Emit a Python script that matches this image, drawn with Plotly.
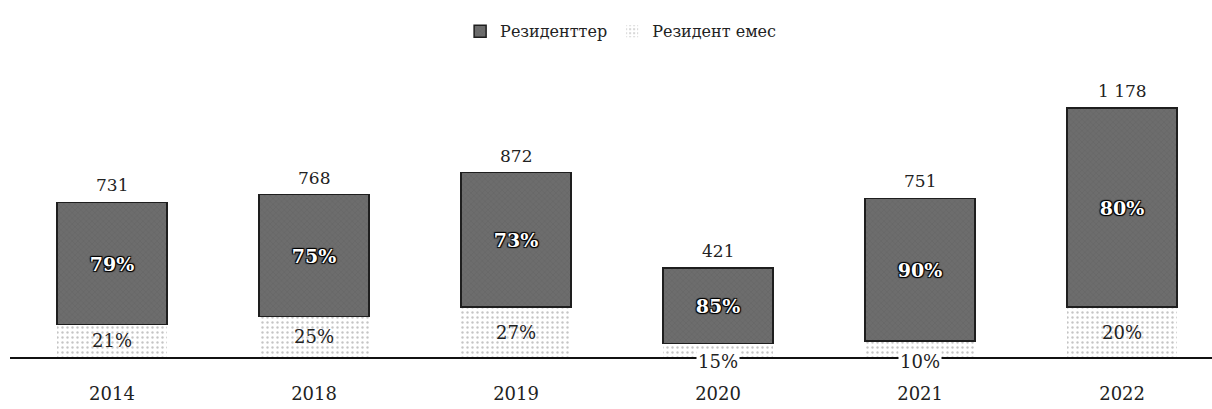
import plotly.graph_objects as go

# Data: totals and shares of residents / non-residents by year
years = ["2014", "2018", "2019", "2020", "2021", "2022"]
totals = [731, 768, 872, 421, 751, 1178]
resident_pct = [79, 75, 73, 85, 90, 80]
nonresident_pct = [21, 25, 27, 15, 10, 20]
total_labels = ["731", "768", "872", "421", "751", "1 178"]

resident_vals = [t * p / 100 for t, p in zip(totals, resident_pct)]
nonresident_vals = [t * p / 100 for t, p in zip(totals, nonresident_pct)]

SERIF = "DejaVu Serif"
DARK = "#6d6d6d"

fig = go.Figure()

# Bottom segment: non-residents (light dotted fill)
fig.add_trace(go.Bar(
    x=years, y=nonresident_vals, name="Резидент емес",
    marker=dict(color="white",
                line=dict(width=0),
                pattern=dict(shape=".", fgcolor="#8c8c8c", bgcolor="white",
                             size=5, solidity=0.18)),
    width=0.545, hoverinfo="skip",
))

# Top segment: residents (dark fill with percentage inside)
fig.add_trace(go.Bar(
    x=years, y=resident_vals, name="Резиденттер",
    marker=dict(color=DARK, line=dict(color="#1e1e1e", width=1.5),
                pattern=dict(shape="x", fgcolor="#5a5a5a", bgcolor=DARK,
                             size=4, solidity=0.25)),
    width=0.545,
    text=[f"{p}%" for p in resident_pct],
    textposition="inside", insidetextanchor="middle",
    textfont=dict(family=SERIF, size=19, color="white", weight="bold",
                  shadow="1px 1px 1px #000, -1px -1px 1px #000, 1px -1px 1px #000, -1px 1px 1px #000"),
    textangle=0, hoverinfo="skip",
))

annotations = []
# Totals above each bar
for i, (t, lbl) in enumerate(zip(totals, total_labels)):
    annotations.append(dict(x=i, y=t, xref="x", yref="y", text=lbl,
                            showarrow=False, yanchor="bottom", yshift=5,
                            font=dict(family=SERIF, size=17, color="#222")))
# Non-resident shares: inside the segment, or on the baseline when it is thin
for i, (v, p) in enumerate(zip(nonresident_vals, nonresident_pct)):
    if v >= 100:
        annotations.append(dict(x=i, y=v / 2, xref="x", yref="y",
                                text=f"{p}%", showarrow=False, yanchor="middle",
                                font=dict(family=SERIF, size=18, color="#222")))
    else:
        annotations.append(dict(x=i, y=0, xref="x", yref="y",
                                text=f"{p}%", showarrow=False, yanchor="middle",
                                yshift=-4, bgcolor="white", borderpad=1,
                                font=dict(family=SERIF, size=18, color="#222")))

fig.update_layout(
    width=1212, height=409,
    margin=dict(l=10, r=0, t=60, b=52),
    paper_bgcolor="white", plot_bgcolor="white",
    barmode="stack",
    showlegend=True,
    legend=dict(orientation="h", x=0.508, xanchor="center",
                yref="container", y=0.965, yanchor="top",
                traceorder="reversed",
                font=dict(family=SERIF, size=16, color="#222"),
                itemwidth=30),
    annotations=annotations,
    xaxis=dict(type="category", range=[-0.505, 5.445], showline=True,
               linecolor="#111", linewidth=2, ticks="", showgrid=False,
               zeroline=False,
               tickfont=dict(family=SERIF, size=18, color="#222"),
               ticklabelstandoff=19),
    yaxis=dict(range=[0, 1405], visible=False, showgrid=False, zeroline=False),
)

fig.write_html("out.html")
